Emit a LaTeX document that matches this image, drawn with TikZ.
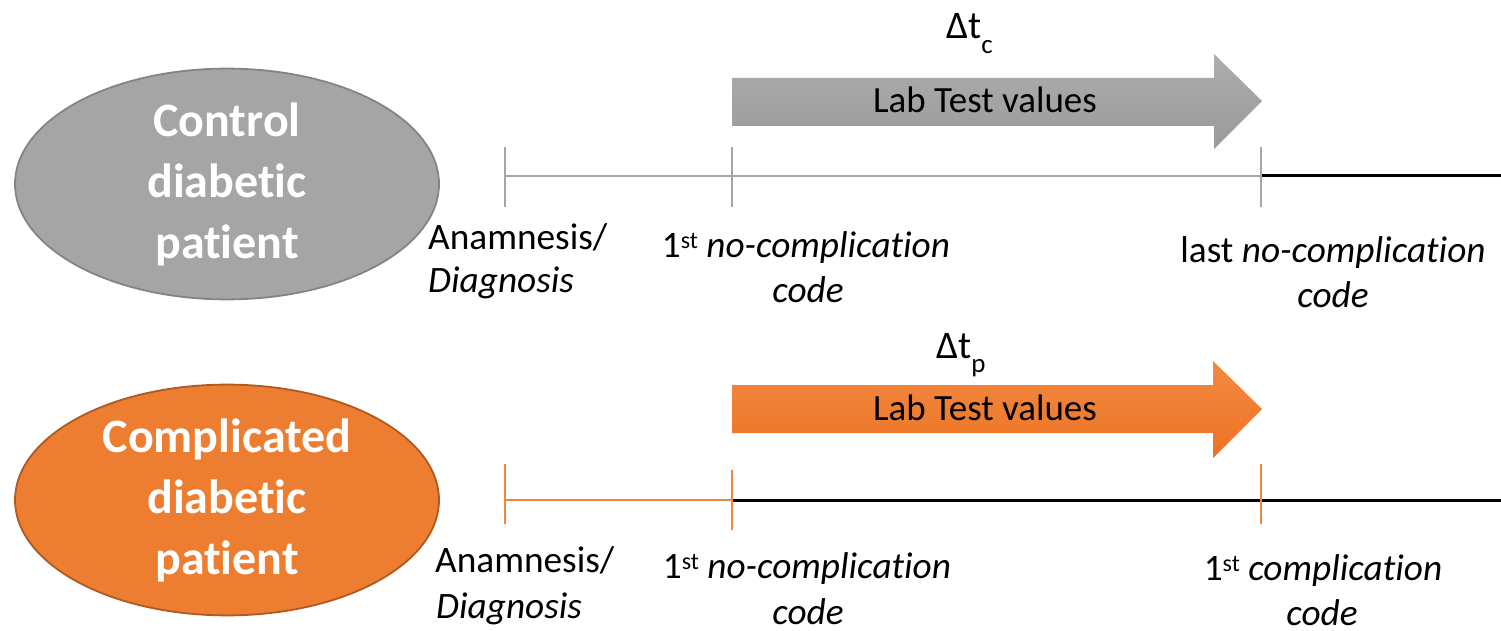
\documentclass[tikz,border=0pt]{standalone}
\usepackage{fontspec}
\setmainfont{Carlito}[Ligatures={NoCommon}]
\usetikzlibrary{shapes.geometric}

\definecolor{ctrlfill}{HTML}{A5A5A5}
\definecolor{ctrledge}{HTML}{848484}
\definecolor{compfill}{HTML}{ED7D31}
\definecolor{compedge}{HTML}{AE5A21}
\definecolor{gline}{HTML}{A6A6A6}
\definecolor{oline}{HTML}{F08540}
\definecolor{garrtop}{HTML}{ADADAD}
\definecolor{garrbot}{HTML}{9A9A9A}
\definecolor{oarrtop}{HTML}{F38A42}
\definecolor{oarrbot}{HTML}{EC7222}

\newcommand{\supst}[1]{\raisebox{0.22em}{\fontsize{24}{24}\selectfont #1}}
\newcommand{\subdt}[1]{\raisebox{-0.38em}{\fontsize{27}{27}\selectfont #1}}

\tikzset{
  patient/.style={ellipse, minimum width=424pt, minimum height=194pt, inner sep=0pt,
    line width=1.8pt, text=white, align=center,
    font=\fontsize{48}{61}\selectfont\bfseries},
  lbl/.style={inner sep=0pt, anchor=base, font=\fontsize{37.3}{45}\selectfont},
  lblw/.style={lbl, anchor=base west},
  delta/.style={inner sep=0pt, anchor=base west, font=\fontsize{39}{44}\selectfont},
  graytick/.style={draw=gline, line width=2.5pt},
  orangetick/.style={draw=oline, line width=2.5pt},
  blackline/.style={draw=black, line width=3pt},
  labarrowtext/.style={inner sep=0pt, anchor=base, font=\fontsize{37}{42}\selectfont}
}

\begin{document}
\begin{tikzpicture}[x=1pt,y=-1pt]
\useasboundingbox (0,0) rectangle (1501,631);

% ---- control patient ----
\node[patient, fill=ctrlfill, draw=ctrledge] (ctrl) at (227,184) {Control\\diabetic\\patient};

\coordinate (a1) at (505,176);
\coordinate (n1) at (732,176);
\coordinate (l1) at (1261,176);
\coordinate (e1) at (1501,176);

\draw[graytick] (a1) -- (l1);
\draw[blackline] (l1) -- (e1);
\draw[graytick] (a1) ++(0,-29) -- ++(0,60);
\draw[graytick] (n1) ++(0,-29) -- ++(0,60);
\draw[graytick] (l1) ++(0,-29) -- ++(0,60);

\shade[top color=garrtop, bottom color=garrbot]
  (732,78) -- (1214,78) -- (1214,54) -- (1262,101) -- (1214,149) -- (1214,126) -- (732,126) -- cycle;
\node[labarrowtext] (labc) at (985,113) {Lab Test values};
\node[delta] (dtc) at (946,39) {\char"0394 t\subdt{c}};

\node[lblw] (anam1) at (428,249) {Anamnesis/};
\node[lblw] (diag1) at (428,292) {\itshape Diagnosis};
\node[lbl] (first1) at (806,257) {1\supst{st} \itshape no-complication};
\node[lbl] (first1b) at (808,302) {\itshape code};
\node[lbl] (last1) at (1333,262) {last \itshape no-complication};
\node[lbl] (last1b) at (1333,307) {\itshape code};

% ---- complicated patient ----
\node[patient, fill=compfill, draw=compedge] (comp) at (227,500) {Complicated\\diabetic\\patient};

\coordinate (a2) at (505,500);
\coordinate (n2) at (732,500);
\coordinate (c2) at (1261,500);
\coordinate (e2) at (1501,500);

\draw[orangetick] (a2) -- (n2);
\draw[blackline] (n2) -- (e2);
\draw[orangetick] (a2) ++(0,-36) -- ++(0,60);
\draw[orangetick] (n2) ++(0,-30) -- ++(0,60);
\draw[orangetick] (c2) ++(0,-36) -- ++(0,60);

\shade[top color=oarrtop, bottom color=oarrbot]
  (732,385) -- (1213,385) -- (1213,361) -- (1262,409) -- (1213,458) -- (1213,433) -- (732,433) -- cycle;
\node[labarrowtext] (labp) at (985,420) {Lab Test values};
\node[delta] (dtp) at (936,358) {\char"0394 t\subdt{p}};

\node[lblw] (anam2) at (435,572) {Anamnesis/};
\node[lblw] (diag2) at (436,618) {\itshape Diagnosis};
\node[lbl] (first2) at (807,578) {1\supst{st} \itshape no-complication};
\node[lbl] (first2b) at (808,624) {\itshape code};
\node[lbl] (first2c) at (1323,580) {1\supst{st} \itshape complication};
\node[lbl] (first2cb) at (1322,625) {\itshape code};
\end{tikzpicture}
\end{document}
